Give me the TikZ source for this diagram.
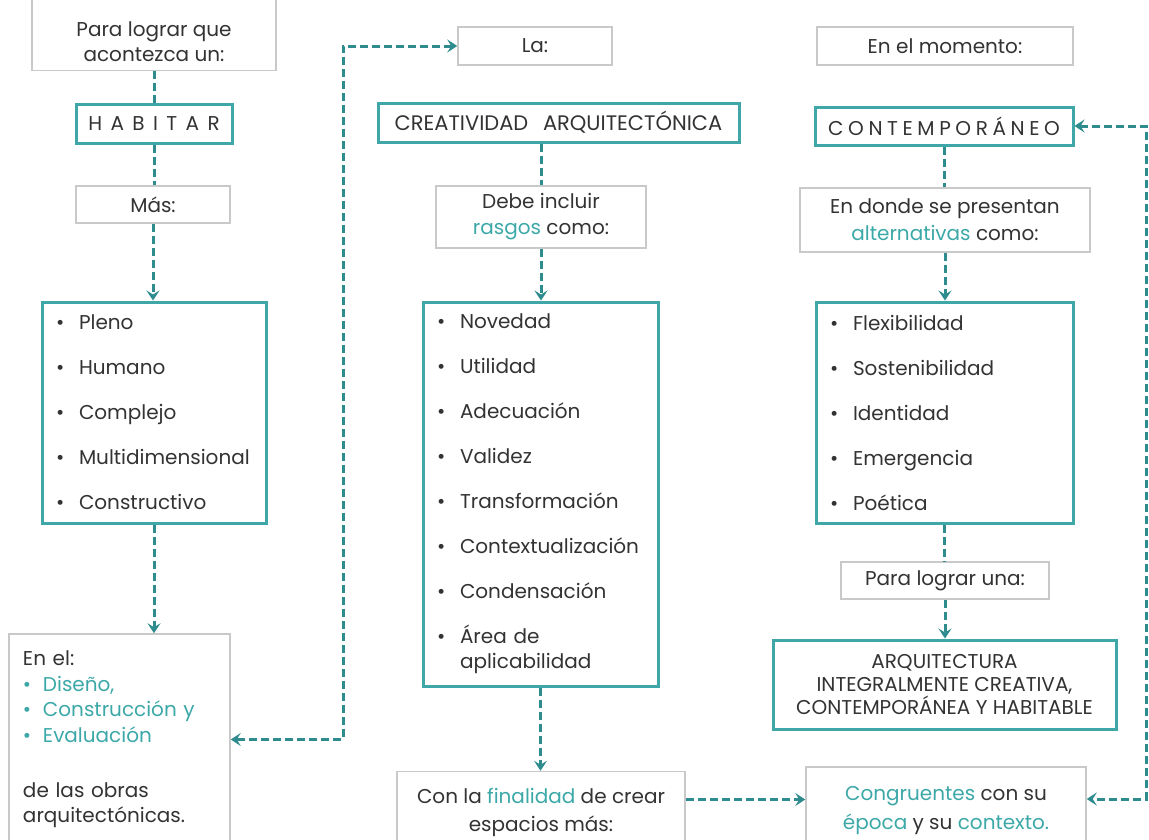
\documentclass[tikz,border=0pt]{standalone}
\usepackage{fontspec}
\setmainfont{Poppins}
\newfontfamily\spacedfontA[LetterSpace=42]{Poppins}
\newfontfamily\spacedfontB[LetterSpace=23]{Poppins}
\usetikzlibrary{arrows.meta}
\definecolor{tealline}{HTML}{2E8C8E}
\definecolor{tealbox}{HTML}{3FA7A7}
\definecolor{tealtxt}{HTML}{3DA8A8}
\definecolor{boxgray}{HTML}{C9C9C9}
\definecolor{txtgray}{HTML}{333333}
\newcommand{\tl}[1]{\textcolor{tealtxt}{#1}}
\newcommand{\bul}{\makebox[23pt][l]{•}}
\newcommand{\tbul}{\makebox[20pt][l]{•}}
\begin{document}
\begin{tikzpicture}[x=1pt,y=-1pt,
  base/.style={fill=white, text=txtgray, align=center, inner sep=0pt, font=\fontsize{20}{25}\selectfont},
  gbox/.style={base, draw=boxgray, line width=1.5pt},
  tbox/.style={base, draw=tealbox, line width=3pt},
  listbox/.style={tbox, align=left, inner xsep=14pt, font=\fontsize{20}{45}\selectfont},
  conn/.style={draw=tealline, line width=3pt, dash pattern=on 8pt off 4pt},
  tip/.tip={Stealth[length=10pt,width=13pt,inset=4pt]},
  arr/.style={conn, -tip},
  arrb/.style={conn, tip-tip},
]
\useasboundingbox (0,0) rectangle (1149,839);
\fill[white] (0,0) rectangle (1149,839);

% left column
\node[gbox, minimum width=244pt, minimum height=85pt, anchor=south] (para) at (154,71) {};
\node[base, fill=none] (paratxt) at (154,42) {Para lograr que\\acontezca un:};
\node[tbox, minimum width=156pt, minimum height=39pt] (habitar) at (154,123.5) {\spacedfontA HABITAR};
\node[gbox, minimum width=154pt, minimum height=37pt] (mas) at (153,204.5) {Más:};
\node[listbox, text width=196pt, minimum height=221pt] (list1) at (154,412.5)
  {\bul Pleno\\\bul Humano\\\bul Complejo\\\bul Multidimensional\\\bul Constructivo};
\node[gbox, align=left, inner xsep=14pt, text width=193pt, minimum height=211pt, font=\fontsize{20}{25.5}\selectfont] (enel) at (119.5,739.5)
  {En el:\\\tl{\tbul Diseño,}\\\tl{\tbul Construcción y}\\\tl{\tbul Evaluación}\\[29.5pt]de las obras\\arquitectónicas.};

% middle column
\node[gbox, minimum width=154pt, minimum height=38pt] (la) at (535,46) {La:};
\node[tbox, minimum width=361pt, minimum height=39pt, font=\fontsize{21}{25}\selectfont] (creat) at (558.5,122.5) {CREATIVIDAD\hspace{0.7em}ARQUITECTÓNICA};
\node[gbox, minimum width=210pt, minimum height=62pt, font=\fontsize{20}{26}\selectfont] (debe) at (541,217) {Debe incluir\\\tl{rasgos} como:};
\node[listbox, text width=207pt, minimum height=384pt] (list2) at (540.5,494)
  {\bul Novedad\\\bul Utilidad\\\bul Adecuación\\\bul Validez\\\bul Transformación\\\bul Contextualización\\\bul Condensación\\\bul Área de\\[-20pt]\hspace*{23pt}aplicabilidad};
\node[gbox, minimum width=288pt, minimum height=82pt, font=\fontsize{20}{28}\selectfont] (conla) at (541,812.5) {Con la \tl{finalidad} de crear\\espacios más:};

% right column
\node[gbox, minimum width=256pt, minimum height=38pt] (momento) at (945,46) {En el momento:};
\node[tbox, minimum width=258pt, minimum height=38pt] (cont) at (944,126) {\spacedfontB CONTEMPORÁNEO};
\node[gbox, minimum width=290pt, minimum height=64pt, font=\fontsize{20}{27}\selectfont] (donde) at (945,220) {En donde se presentan\\\tl{alternativas} como:};
\node[listbox, text width=229pt, minimum height=221pt] (list3) at (944.5,412.5)
  {\bul Flexibilidad\\\bul Sostenibilidad\\\bul Identidad\\\bul Emergencia\\\bul Poética};
\node[gbox, minimum width=208pt, minimum height=37pt] (para2) at (945,580.5) {Para lograr una:};
\node[tbox, minimum width=343pt, minimum height=89pt, font=\fontsize{20}{23}\selectfont] (arq) at (944.5,684.5) {ARQUITECTURA\\INTEGRALMENTE CREATIVA,\\CONTEMPORÁNEA Y HABITABLE};
\node[gbox, minimum width=280pt, minimum height=88pt, font=\fontsize{20}{29}\selectfont] (cong) at (946,811) {\tl{Congruentes} con su\\\tl{época} y su \tl{contexto.}};

\coordinate (lx) at (343,0);
\coordinate (rx) at (1146,0);

% connectors
\draw[conn] (para.south) -- (para.south |- habitar.north);
\draw[conn] (habitar.south) -- (habitar.south |- mas.north);
\draw[arr] (mas.south) -- (mas.south |- list1.north);
\draw[arr] (list1.south) -- (list1.south |- enel.north);
\draw[arrb] (la.west) -- (la.west -| lx) |- (enel.east);

\draw[conn] (debe.north |- creat.south) -- (debe.north);
\draw[arr] (debe.south) -- (debe.south |- list2.north);
\draw[arr] (list2.south) -- (list2.south |- conla.north);
\draw[arr] ([yshift=13pt]conla.east) -- ([yshift=13pt]conla.east -| cong.west);

\draw[conn] (cont.south) -- (cont.south |- donde.north);
\draw[arr] (donde.south) -- (donde.south |- list3.north);
\draw[conn] (list3.south) -- (list3.south |- para2.north);
\draw[arr] (para2.south) -- (para2.south |- arq.north);
\draw[arrb] (cont.east) -- (cont.east -| rx) |- ([yshift=12pt]cong.east);
\end{tikzpicture}
\end{document}
